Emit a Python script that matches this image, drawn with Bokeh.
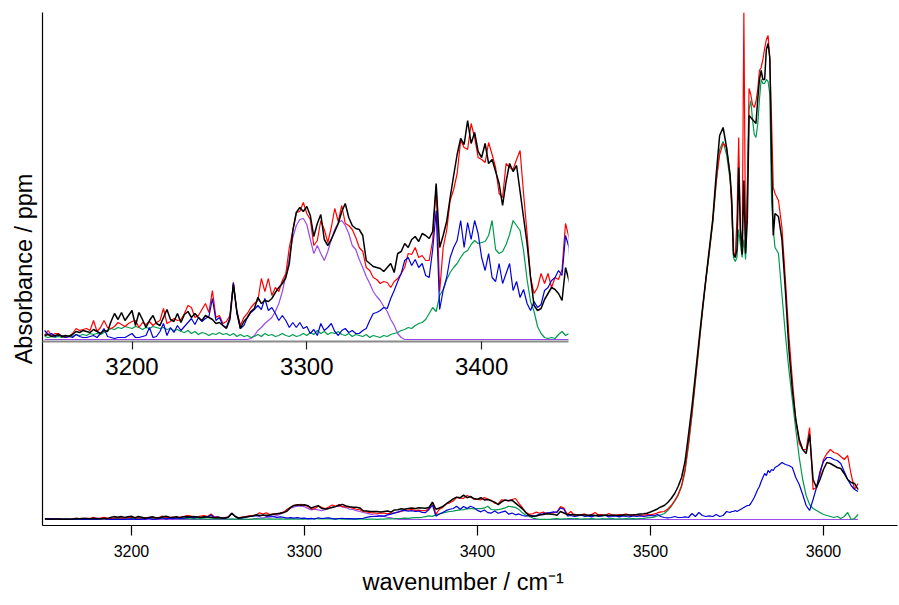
from bokeh.plotting import figure
from bokeh.layouts import column
from bokeh.models import Range1d, FixedTicker, Title
from bokeh.embed import file_html
from bokeh.resources import INLINE

# wavenumber grid (cm-1): 2 cm-1 steps, 1 cm-1 steps across the sharp band centre
wn = list(range(3150, 3546, 2)) + list(range(3546, 3573)) + list(range(3574, 3621, 2))

black = [
    4, 5, 3, 4, 5, 3, 4, 3, 5, 8,
    7, 9, 8, 7, 10, 8, 6, 9, 8, 18,
    26, 20, 27, 19, 24, 29, 14, 27, 20, 12,
    19, 24, 16, 14, 22, 30, 20, 18, 26, 17,
    25, 28, 22, 26, 22, 19, 24, 22, 20, 16,
    17, 14, 11, 20, 55, 28, 11, 18, 22, 28,
    31, 42, 36, 39, 38, 41, 47, 52, 56, 62,
    76, 109, 127, 132, 128, 133, 124, 103, 116, 125,
    100, 94, 100, 108, 116, 128, 136, 122, 114, 111,
    110, 104, 79, 76, 73, 72, 71, 68, 72, 76,
    67, 86, 88, 96, 92, 100, 103, 98, 106, 104,
    101, 108, 156, 92, 104, 118, 142, 164, 185, 201,
    195, 219, 196, 207, 188, 182, 196, 176, 180, 168,
    156, 134, 158, 176, 168, 174, 148, 122, 96, 62,
    34, 29, 31, 40, 46, 52, 50, 46, 39, 72,
    59,
    45, 42, 45, 39, 42, 41, 38, 41, 36, 39,
    37, 40, 36, 39, 39, 37, 41, 40, 41, 42,
    45, 49, 51, 56, 68, 81, 95, 113, 126, 153,
    189, 234, 297, 378, 522, 765, 1017, 1305, 1602, 1890,
    2160, 2430, 2700, 3105, 3456, 3528, 3348,
    3105, 2880, 2385, 2358, 2430, 3168, 2610, 2385, 3051, 2394, 2700, 3636, 3618, 3600,
    3582, 3564, 3780, 3960, 4041, 3960, 3960, 4230, 4284, 4158, 3240, 2556, 2754,
    2727, 2520, 2061, 1539, 1170, 900, 720, 630, 594, 765, 360, 288,
    360, 450, 513, 504, 486, 468, 459, 414, 360, 333, 324, 270,
]

red = [
    4, 9, 4, 6, 6, 3, 2, 3, 6, 11,
    9, 10, 11, 9, 19, 8, 12, 19, 12, 11,
    13, 17, 15, 13, 16, 18, 19, 12, 17, 15,
    18, 14, 17, 19, 31, 16, 18, 21, 19, 20,
    26, 34, 32, 22, 24, 30, 36, 27, 49, 22,
    24, 16, 18, 24, 57, 28, 14, 22, 26, 32,
    36, 39, 61, 48, 61, 44, 52, 48, 59, 66,
    92, 109, 127, 128, 137, 126, 120, 94, 99, 119,
    110, 97, 112, 131, 118, 134, 116, 114, 110, 102,
    92, 88, 72, 69, 62, 60, 56, 58, 57, 52,
    58, 61, 66, 72, 86, 85, 92, 82, 84, 79,
    79, 99, 154, 48, 92, 109, 139, 150, 166, 199,
    192, 190, 216, 202, 182, 180, 177, 197, 185, 172,
    146, 142, 176, 172, 170, 180, 189, 146, 106, 62,
    46, 52, 66, 56, 66, 52, 62, 60, 70, 116,
    102,
    45, 72, 36, 45, 41, 50, 36, 45, 63, 41,
    45, 36, 54, 41, 38, 45, 41, 50, 39, 41,
    40, 38, 39, 43, 41, 48, 59, 68, 72, 95,
    126, 171, 225, 306, 450, 684, 954, 1260, 1566, 1872,
    2160, 2412, 2682, 3042, 3285, 3384, 3348,
    3105, 2790, 2403, 2376, 2700, 3438, 2610, 2394, 4563, 2412, 2970, 3879, 3825, 3735,
    3708, 3762, 3870, 4041, 4068, 4140, 4239, 4320, 4356, 4131, 3600, 2988, 2934,
    2871, 2628, 2160, 1665, 1260, 900, 684, 630, 630, 828, 270, 288,
    405, 540, 594, 630, 603, 594, 567, 540, 576, 405, 270, 324,
]

green = [
    3, 2, 3, 2, 3, 2, 3, 4, 3, 5,
    4, 5, 4, 6, 5, 6, 5, 7, 9, 11,
    10, 12, 11, 13, 12, 11, 13, 12, 10, 12,
    11, 13, 12, 11, 12, 10, 11, 9, 10, 8,
    7, 9, 6, 8, 5, 7, 6, 4, 6, 5,
    7, 5, 6, 4, 6, 3, 5, 3, 4, 2,
    3, 5, 3, 6, 4, 5, 3, 4, 6, 4,
    3, 5, 3, 4, 6, 4, 7, 5, 9, 6,
    8, 5, 7, 6, 8, 5, 4, 6, 3, 5,
    4, 3, 5, 2, 4, 3, 2, 4, 3, 5,
    6, 7, 9, 10, 12, 11, 14, 16, 17, 20,
    26, 32, 28, 44, 50, 60, 67, 72, 76, 82,
    87, 89, 95, 99, 96, 97, 98, 104, 119, 90,
    86, 88, 95, 105, 119, 114, 109, 89, 60, 38,
    28, 13, 6, 2, 1, 2, 1, 5, 8, 4,
    6,
    7, 9, 5, 7, 4, 6, 5, 8, 5, 4,
    7, 5, 5, 8, 4, 6, 5, 7, 5, 8,
    6, 9, 11, 14, 16, 21, 32, 41, 54, 81,
    117, 162, 216, 297, 432, 666, 936, 1242, 1548, 1854,
    2142, 2394, 2664, 3024, 3330, 3402, 3285,
    3060, 2835, 2358, 2322, 2358, 2610, 2475, 2358, 2520, 2340, 2970, 3690, 3771, 3600,
    3465, 3438, 3555, 3780, 3960, 3924, 3924, 3960, 3942, 3825, 2871, 2610, 2448,
    2394, 2025, 1665, 1350, 1080, 810, 558, 360, 216, 135, 99, 81,
    63, 45, 36, 27, 18, 27, 9, 27, 63, 0, 9, 45,
]

blue = [
    9, 5, 6, 3, 4, 4, 2, 3, 2, 5,
    3, 2, 2, 3, 4, 2, 6, 11, 3, 2,
    1, 2, 2, 2, 4, 6, 2, 2, 3, 4,
    12, 2, 3, 8, 16, 4, 12, 7, 14, 9,
    13, 17, 21, 15, 22, 18, 21, 23, 41, 19,
    22, 14, 12, 22, 57, 26, 11, 14, 22, 27,
    30, 34, 30, 41, 29, 32, 26, 19, 24, 19,
    12, 17, 12, 17, 11, 13, 6, 10, 4, 16,
    9, 12, 16, 8, 4, 9, 11, 7, 9, 6,
    6, 9, 11, 19, 26, 27, 29, 32, 31, 41,
    49, 58, 66, 79, 82, 74, 80, 72, 76, 64,
    62, 90, 129, 30, 49, 62, 82, 92, 99, 119,
    92, 117, 100, 119, 106, 82, 69, 86, 62, 58,
    76, 56, 66, 76, 49, 58, 42, 50, 36, 29,
    38, 32, 35, 49, 52, 59, 62, 69, 64, 104,
    92,
    32, 36, 27, 32, 41, 27, 32, 23, 36, 27,
    32, 36, 23, 27, 32, 23, 32, 27, 23, 32,
    27, 32, 27, 32, 36, 32, 45, 27, 18, 14,
    18, 27, 18, 18, 23, 18, 54, 27, 63, 36,
    27, 32, 27, 45, 27, 36, 72,
    63, 72, 72, 81, 72, 81, 90, 99, 108, 117, 126, 126, 144, 171,
    198, 234, 270, 297, 342, 378, 414, 396, 441, 423, 450, 441, 468,
    486, 513, 495, 486, 468, 378, 315, 225, 126, 81, 180, 288,
    432, 522, 558, 558, 540, 531, 504, 432, 360, 306, 270, 252,
]

purple_wn = [3150, 3266] + list(range(3268, 3358, 2)) + [3620]
purple = [
    0, 0,
    1, 4, 9, 12, 16, 19, 22, 28, 36, 48, 64, 82, 102, 114, 120, 121, 115,
    100, 86, 94, 86, 79, 88, 100, 110, 117, 119, 114, 106, 94, 90, 80, 72,
    63, 56, 48, 43, 39, 33, 28, 20, 14, 6, 2, 0,
    0,
]

main_ticks = [3200, 3300, 3400, 3500, 3600]
inset_ticks = [3200, 3300, 3400]

C_BLACK = "#000000"
C_RED = "#ff0000"
C_GREEN = "#009a4e"
C_BLUE = "#0000dc"
C_PURPLE = "#9a4ae6"
FONT = "Liberation Sans"


def draw(p, lw):
    p.line(purple_wn, purple, color=C_PURPLE, line_width=lw)
    p.line(wn, green, color=C_GREEN, line_width=lw)
    p.line(wn, red, color=C_RED, line_width=lw)
    p.line(wn, blue, color=C_BLUE, line_width=lw)
    p.line(wn, black, color=C_BLACK, line_width=lw + 0.3)


# ---------------- main plot ----------------
main = figure(width=899, height=605,
              x_range=Range1d(3148.6, 3642.8), y_range=Range1d(-54, 4563),
              output_backend="svg", toolbar_location=None,
              min_border_left=42, min_border_right=2,
              min_border_top=12, min_border_bottom=80)
main.outline_line_color = None
main.grid.visible = False
main.background_fill_color = "white"
main.border_fill_color = "white"
draw(main, 1.2)

ax = main.xaxis[0]
ax.ticker = FixedTicker(ticks=main_ticks)
ax.major_tick_out = 10
ax.major_tick_in = 0
ax.minor_tick_out = 0
ax.minor_tick_in = 0
ax.axis_line_color = "black"
ax.axis_line_width = 1.2
ax.major_tick_line_color = "black"
ax.major_tick_line_width = 1.2
ax.major_label_text_font = FONT
ax.major_label_text_font_size = "16px"
ax.major_label_text_color = "black"
ax.major_label_standoff = 9

ay = main.yaxis[0]
ay.ticker = FixedTicker(ticks=[])
ay.major_tick_out = 0
ay.major_tick_in = 0
ay.minor_tick_out = 0
ay.minor_tick_in = 0
ay.major_label_text_font_size = "0px"
ay.axis_line_color = "black"
ay.axis_line_width = 1.2
ay.axis_label = "Absorbance / ppm"
ay.axis_label_text_font = FONT
ay.axis_label_text_font_size = "23.5px"
ay.axis_label_text_font_style = "normal"
ay.axis_label_text_color = "black"
ay.axis_label_standoff = 6

# x title in its own panel below the axis
main.add_layout(Title(text="wavenumber / cm\u207b\u00b9", align="left", offset=320,
                      standoff=14, text_font=FONT, text_font_size="23.5px",
                      text_font_style="normal", text_color="black"), "below")

# ---------------- inset ----------------
inset = figure(width=570, height=388,
               x_range=Range1d(3148.8, 3449.7), y_range=Range1d(-2, 327),
               output_backend="svg", toolbar_location=None,
               min_border_left=42, min_border_right=0,
               min_border_top=12, min_border_bottom=47)
inset.outline_line_color = None
inset.grid.visible = False
inset.background_fill_color = None
inset.border_fill_color = None
inset.yaxis.visible = False
draw(inset, 1.2)

bx = inset.xaxis[0]
bx.ticker = FixedTicker(ticks=inset_ticks)
bx.major_tick_out = 8
bx.major_tick_in = 0
bx.minor_tick_out = 0
bx.minor_tick_in = 0
bx.axis_line_color = "#8a8a8a"
bx.axis_line_width = 2
bx.major_tick_line_color = "#222222"
bx.major_tick_line_width = 1.2
bx.major_label_text_font = FONT
bx.major_label_text_font_size = "24px"
bx.major_label_text_color = "black"
bx.major_label_standoff = 8

inset.margin = (-605, 0, 0, 0)

layout = column(main, inset)
open("out.html", "w").write(file_html(layout, INLINE))
